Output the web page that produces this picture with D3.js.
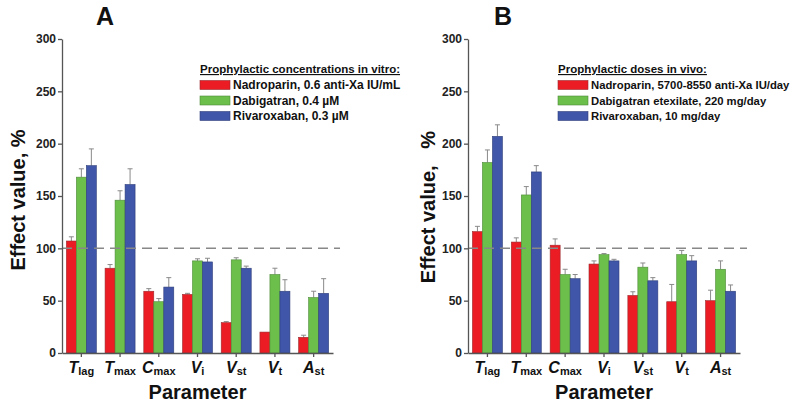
<!DOCTYPE html>
<html><head><meta charset="utf-8">
<script src="https://cdn.jsdelivr.net/npm/d3@7"></script>
<style>body{margin:0;background:#fff}svg{display:block;font-family:Arial,"Liberation Sans",sans-serif}</style>
</head><body>
<svg id="chart" width="800" height="405"></svg>
<script>
const params = [["T","lag"],["T","max"],["C","max"],["V","i"],["V","st"],["V","t"],["A","st"]];
const paramKeys = ["Tlag","Tmax","Cmax","Vi","Vst","Vt","Ast"];
const seriesKeys = ["Nadroparin","Dabigatran","Rivaroxaban"];
const yTicks = [0,50,100,150,200,250,300];

// Panel A (in vitro)
const aNadroparin = [107, 81, 59, 56, 29, 20, 15];
const aNadroparinErr = [111, 84.5, 61.5, 57, 30, 20, 17];
const aDabigatran = [168, 146, 49, 88, 89, 75, 53];
const aDabigatranErr = [176, 155, 52, 90, 91, 81, 59];
const aRivaroxaban = [179, 161, 63, 87, 81, 59, 57];
const aRivaroxabanErr = [195, 176, 72, 90.5, 83, 70, 71];
const aLegend = ["Nadroparin, 0.6 anti-Xa IU/mL","Dabigatran, 0.4 \u00b5M","Rivaroxaban, 0.3 \u00b5M"];
const aLegendTitle = "Prophylactic concentrations in vitro:";

// Panel B (in vivo)
const bNadroparin = [116, 106, 103, 85, 55, 49, 50];
const bNadroparinErr = [121, 110, 109, 88, 58.5, 65.5, 60];
const bDabigatran = [182, 151, 75, 94, 82, 94, 80];
const bDabigatranErr = [194, 159, 80, 95, 86, 98, 88];
const bRivaroxaban = [207, 173, 71, 88, 69, 88, 59];
const bRivaroxabanErr = [218, 179, 75, 89.5, 72, 93, 65];
const bLegend = ["Nadroparin, 5700-8550 anti-Xa IU/day","Dabigatran etexilate, 220 mg/day","Rivaroxaban, 10 mg/day"];
const bLegendTitle = "Prophylactic doses in vivo:";

const colors = ["#ec1c24","#6cbf4a","#3f56a9"];
const strokes = ["#9a2a2e","#4f8a3a","#2f3f7a"];

const svg = d3.select("#chart");

function panel(opt){
  const g = svg.append("g");
  const y = d3.scaleLinear().domain([0,300]).range([353,39]);
  const x = d3.scaleBand().domain(paramKeys).range([opt.x0,opt.x1]).padding(0);
  const inner = d3.scaleBand().domain(seriesKeys).range([0,30]).padding(0);
  const data = [opt.vals[0],opt.vals[1],opt.vals[2]];
  const errs = [opt.errs[0],opt.errs[1],opt.errs[2]];

  seriesKeys.forEach((s,si)=>{
    paramKeys.forEach((p,pi)=>{
      const bx = x(p) + x.bandwidth()/2 - 15 + inner(s);
      const v = data[si][pi], e = errs[si][pi];
      if (e > v + 0.5) {
        const cx = bx + inner.bandwidth()/2;
        g.append("line").attr("x1",cx).attr("x2",cx).attr("y1",y(v)).attr("y2",y(e))
          .attr("stroke","#8a8a8a").attr("stroke-width",1);
        g.append("line").attr("x1",cx-2.5).attr("x2",cx+2.5).attr("y1",y(e)).attr("y2",y(e))
          .attr("stroke","#8a8a8a").attr("stroke-width",1);
      }
      g.append("rect").attr("x",bx).attr("y",y(v)).attr("width",inner.bandwidth())
        .attr("height",y(0)-y(v)).attr("fill",colors[si]).attr("stroke",strokes[si]).attr("stroke-width",0.6);
    });
  });

  // dashed reference line
  g.append("line").attr("x1",opt.x0).attr("x2",opt.x1+7).attr("y1",y(100)).attr("y2",y(100))
    .attr("stroke","#888").attr("stroke-width",1.5).attr("stroke-dasharray","10,6");

  const ya = g.append("g").attr("transform",`translate(${opt.x0},0)`)
    .call(d3.axisLeft(y).tickValues(yTicks).tickSize(4).tickSizeOuter(0).tickPadding(2));
  ya.selectAll("text").attr("font-size",12).attr("font-weight","bold").attr("fill","#222").attr("font-family","Arial");
  ya.selectAll("path,line").attr("stroke","#555").attr("stroke-width",1.3);

  const xa = g.append("g").attr("transform",`translate(0,${y(0)})`)
    .call(d3.axisBottom(x).tickSize(4).tickSizeOuter(0).tickFormat(""));
  xa.selectAll("path,line").attr("stroke","#555").attr("stroke-width",1.3);

  params.forEach((p,i)=>{
    const t = g.append("text").attr("x",x(paramKeys[i])+x.bandwidth()/2).attr("y",373)
      .attr("text-anchor","middle").attr("font-weight","bold").attr("fill","#111");
    t.append("tspan").attr("font-style","italic").attr("font-size",16).text(p[0]);
    t.append("tspan").attr("font-size",11).attr("dy",2).text(p[1]);
  });

  g.append("text").attr("x",(opt.x0+opt.x1)/2).attr("y",399).attr("text-anchor","middle")
    .attr("font-size",20).attr("font-weight","bold").attr("fill","#111").text("Parameter");

  g.append("text").attr("transform",`translate(${opt.ylx},${opt.yly}) rotate(-90)`)
    .attr("text-anchor","middle").attr("font-size",20).attr("font-weight","bold").attr("fill","#111")
    .attr("xml:space","preserve").text(opt.ylabel);

  g.append("text").attr("x",opt.tx).attr("y",25).attr("text-anchor","middle")
    .attr("font-size",25).attr("font-weight","bold").attr("fill","#111").text(opt.title);

  // legend
  const lg = g.append("g").attr("transform",`translate(${opt.lx},0)`);
  lg.append("text").attr("x",0).attr("y",73).attr("font-size",11.5).attr("font-weight","bold")
    .attr("fill","#111").attr("text-decoration","underline").text(opt.legendTitle);
  opt.legend.forEach((l,i)=>{
    const cy = 85 + i*15.5;
    lg.append("rect").attr("x",0).attr("y",cy-4.5).attr("width",30).attr("height",9)
      .attr("fill",colors[i]).attr("stroke",strokes[i]).attr("stroke-width",0.6);
    lg.append("text").attr("x",33).attr("y",cy+4.3).attr("font-size",opt.lfs).attr("font-weight","bold")
      .attr("fill","#111").text(l);
  });
}

panel({x0:62,x1:333,vals:[aNadroparin,aDabigatran,aRivaroxaban],errs:[aNadroparinErr,aDabigatranErr,aRivaroxabanErr],
  legend:aLegend,legendTitle:aLegendTitle,lx:200,lfs:12,title:"A",tx:105,ylabel:"Effect value, %",ylx:25,yly:200});
panel({x0:468,x1:740,vals:[bNadroparin,bDabigatran,bRivaroxaban],errs:[bNadroparinErr,bDabigatranErr,bRivaroxabanErr],
  legend:bLegend,legendTitle:bLegendTitle,lx:558,lfs:11.3,title:"B",tx:503,ylabel:"Effect value,   %",ylx:435,yly:207});
</script>
</body></html>
